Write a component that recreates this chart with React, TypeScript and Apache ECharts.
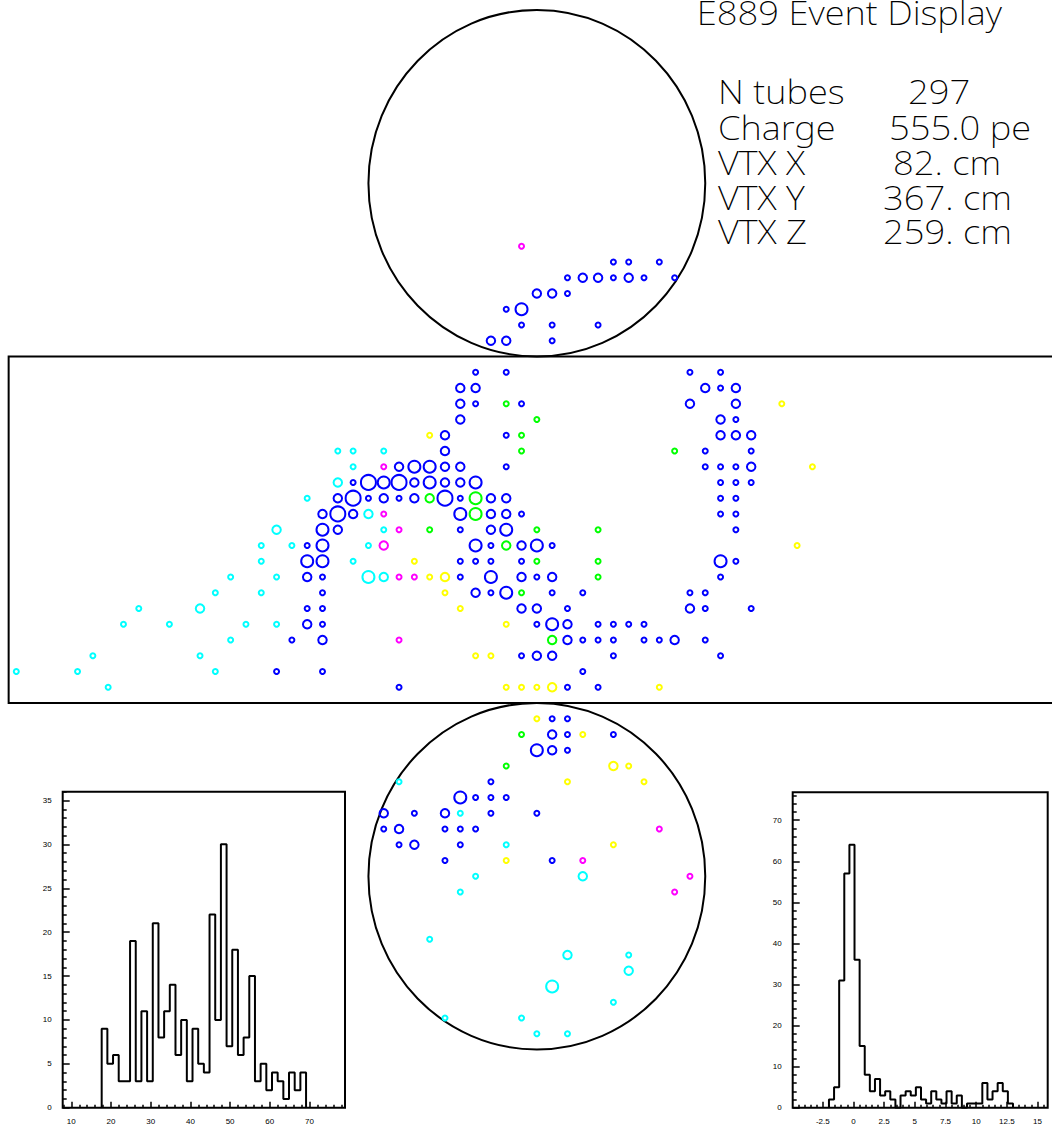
import React, { useEffect, useRef } from "react";
import * as echarts from "echarts";

// ---------------- DATA ----------------
// PMT hits: [column, row, charge size class (1..4), colour code]
const topCapHits: [number, number, number, string][] = [
  [33, -8, 1, "m"],
  [39, -7, 1, "b"], [40, -7, 1, "b"], [42, -7, 1, "b"],
  [36, -6, 1, "b"], [37, -6, 2, "b"], [38, -6, 2, "b"], [39, -6, 1, "b"], [40, -6, 2, "b"], [41, -6, 1, "b"], [43, -6, 1, "b"],
  [34, -5, 2, "b"], [35, -5, 2, "b"], [36, -5, 1, "b"],
  [32, -4, 1, "b"], [33, -4, 3, "b"],
  [33, -3, 1, "b"], [35, -3, 1, "b"], [38, -3, 1, "b"],
  [31, -2, 2, "b"], [32, -2, 2, "b"], [35, -2, 1, "b"],
];

const barrelHits: [number, number, number, string][] = [
  [30, 0, 1, "b"], [32, 0, 1, "b"], [44, 0, 1, "b"], [46, 0, 1, "b"],
  [29, 1, 2, "b"], [30, 1, 2, "b"], [45, 1, 2, "b"], [46, 1, 1, "b"], [47, 1, 2, "b"],
  [29, 2, 2, "b"], [30, 2, 1, "b"], [32, 2, 1, "g"], [33, 2, 1, "b"], [44, 2, 2, "b"], [47, 2, 2, "b"], [50, 2, 1, "y"],
  [29, 3, 2, "b"], [34, 3, 1, "g"], [46, 3, 2, "b"], [47, 3, 1, "b"],
  [27, 4, 1, "y"], [28, 4, 2, "b"], [32, 4, 1, "b"], [33, 4, 1, "g"], [46, 4, 2, "b"], [47, 4, 2, "b"], [48, 4, 2, "b"],
  [21, 5, 1, "c"], [22, 5, 1, "c"], [24, 5, 1, "c"], [28, 5, 2, "b"], [33, 5, 1, "g"], [43, 5, 1, "g"], [45, 5, 1, "b"], [48, 5, 1, "b"],
  [22, 6, 1, "c"], [24, 6, 1, "m"], [25, 6, 2, "b"], [26, 6, 3, "b"], [27, 6, 3, "b"], [28, 6, 2, "b"], [29, 6, 2, "b"], [32, 6, 1, "b"],
  [45, 6, 1, "b"], [46, 6, 1, "b"], [47, 6, 1, "b"], [48, 6, 2, "b"], [52, 6, 1, "y"],
  [21, 7, 2, "c"], [22, 7, 1, "b"], [23, 7, 4, "b"], [24, 7, 3, "b"], [25, 7, 4, "b"], [26, 7, 2, "b"], [27, 7, 3, "b"], [28, 7, 2, "b"],
  [29, 7, 2, "b"], [30, 7, 3, "b"], [46, 7, 1, "b"], [47, 7, 1, "b"], [48, 7, 1, "b"],
  [19, 8, 1, "c"], [21, 8, 2, "b"], [22, 8, 4, "b"], [23, 8, 1, "b"], [24, 8, 2, "b"], [25, 8, 1, "b"], [26, 8, 2, "b"], [27, 8, 2, "g"],
  [28, 8, 4, "b"], [29, 8, 1, "b"], [30, 8, 3, "g"], [31, 8, 2, "b"], [32, 8, 2, "b"], [46, 8, 1, "b"], [47, 8, 1, "b"],
  [20, 9, 2, "b"], [21, 9, 4, "b"], [22, 9, 2, "b"], [23, 9, 2, "c"], [24, 9, 1, "m"], [29, 9, 3, "b"], [30, 9, 3, "g"], [31, 9, 2, "b"],
  [32, 9, 2, "b"], [33, 9, 1, "b"], [46, 9, 1, "b"], [47, 9, 1, "b"],
  [17, 10, 2, "c"], [20, 10, 3, "b"], [21, 10, 2, "b"], [24, 10, 1, "c"], [25, 10, 1, "m"], [27, 10, 1, "g"], [29, 10, 1, "b"], [31, 10, 2, "b"],
  [32, 10, 3, "b"], [34, 10, 1, "g"], [38, 10, 1, "g"], [47, 10, 1, "b"],
  [16, 11, 1, "c"], [18, 11, 1, "c"], [19, 11, 1, "b"], [20, 11, 3, "b"], [23, 11, 1, "c"], [24, 11, 2, "m"], [30, 11, 3, "b"], [31, 11, 1, "b"],
  [32, 11, 2, "g"], [33, 11, 2, "b"], [34, 11, 3, "b"], [35, 11, 1, "b"], [51, 11, 1, "y"],
  [16, 12, 1, "c"], [19, 12, 3, "b"], [20, 12, 3, "b"], [22, 12, 1, "c"], [26, 12, 1, "y"], [29, 12, 1, "b"], [30, 12, 1, "b"], [31, 12, 1, "b"],
  [33, 12, 1, "b"], [34, 12, 1, "g"], [38, 12, 1, "g"], [46, 12, 3, "b"], [47, 12, 1, "b"],
  [14, 13, 1, "c"], [17, 13, 1, "c"], [19, 13, 2, "b"], [20, 13, 1, "b"], [23, 13, 3, "c"], [24, 13, 2, "c"], [25, 13, 1, "m"], [26, 13, 1, "m"],
  [27, 13, 1, "y"], [28, 13, 2, "y"], [29, 13, 1, "b"], [31, 13, 3, "b"], [33, 13, 2, "b"], [34, 13, 1, "b"], [35, 13, 2, "b"], [38, 13, 1, "g"], [46, 13, 1, "b"],
  [13, 14, 1, "c"], [16, 14, 1, "c"], [20, 14, 1, "b"], [28, 14, 1, "y"], [30, 14, 2, "b"], [31, 14, 1, "b"], [32, 14, 3, "b"], [33, 14, 1, "g"],
  [35, 14, 1, "b"], [37, 14, 1, "b"], [44, 14, 1, "b"], [45, 14, 1, "b"],
  [8, 15, 1, "c"], [12, 15, 2, "c"], [19, 15, 1, "b"], [20, 15, 1, "b"], [29, 15, 1, "y"], [33, 15, 2, "b"], [34, 15, 2, "b"], [36, 15, 1, "b"],
  [44, 15, 2, "b"], [45, 15, 1, "b"], [48, 15, 1, "b"],
  [7, 16, 1, "c"], [10, 16, 1, "c"], [15, 16, 1, "c"], [17, 16, 1, "c"], [19, 16, 2, "b"], [20, 16, 1, "b"], [32, 16, 1, "y"], [34, 16, 1, "b"],
  [35, 16, 3, "b"], [36, 16, 2, "b"], [38, 16, 1, "b"], [39, 16, 1, "b"], [40, 16, 1, "b"], [41, 16, 1, "b"],
  [14, 17, 1, "c"], [18, 17, 1, "b"], [20, 17, 2, "b"], [25, 17, 1, "m"], [35, 17, 2, "g"], [36, 17, 2, "b"], [37, 17, 1, "b"], [38, 17, 1, "b"],
  [39, 17, 1, "b"], [41, 17, 1, "b"], [42, 17, 1, "b"], [43, 17, 2, "b"], [45, 17, 1, "b"],
  [5, 18, 1, "c"], [12, 18, 1, "c"], [30, 18, 1, "y"], [31, 18, 1, "y"], [33, 18, 1, "b"], [34, 18, 2, "b"], [35, 18, 2, "b"], [39, 18, 1, "b"], [46, 18, 1, "b"],
  [0, 19, 1, "c"], [4, 19, 1, "c"], [13, 19, 1, "c"], [17, 19, 1, "b"], [20, 19, 1, "b"], [37, 19, 1, "b"],
  [6, 20, 1, "c"], [25, 20, 1, "b"], [32, 20, 1, "y"], [33, 20, 1, "y"], [34, 20, 1, "y"], [35, 20, 2, "y"], [36, 20, 1, "b"], [38, 20, 1, "b"], [42, 20, 1, "y"],
];

const bottomCapHits: [number, number, number, string][] = [
  [34, 22, 1, "y"], [35, 22, 1, "b"], [36, 22, 1, "b"],
  [33, 23, 1, "g"], [35, 23, 2, "b"], [36, 23, 1, "b"], [37, 23, 1, "y"], [39, 23, 1, "b"],
  [34, 24, 3, "b"], [35, 24, 2, "b"], [36, 24, 1, "b"],
  [32, 25, 1, "g"], [39, 25, 2, "y"], [40, 25, 1, "y"],
  [25, 26, 1, "c"], [31, 26, 1, "b"], [36, 26, 1, "y"], [41, 26, 1, "y"],
  [29, 27, 3, "b"], [30, 27, 1, "b"], [31, 27, 1, "b"], [32, 27, 1, "b"],
  [24, 28, 2, "b"], [26, 28, 1, "b"], [28, 28, 2, "b"], [29, 28, 1, "c"], [31, 28, 1, "b"], [34, 28, 1, "b"],
  [24, 29, 1, "b"], [25, 29, 2, "b"], [28, 29, 1, "b"], [29, 29, 1, "b"], [30, 29, 1, "b"], [42, 29, 1, "m"],
  [25, 30, 1, "b"], [26, 30, 2, "b"], [29, 30, 1, "b"], [32, 30, 1, "c"], [39, 30, 1, "y"],
  [28, 31, 1, "b"], [32, 31, 1, "y"], [35, 31, 1, "b"], [37, 31, 1, "m"],
  [30, 32, 1, "c"], [37, 32, 2, "c"], [44, 32, 1, "m"],
  [29, 33, 1, "c"], [43, 33, 1, "m"],
  [27, 36, 1, "c"],
  [36, 37, 2, "c"], [40, 37, 1, "c"],
  [40, 38, 2, "c"],
  [35, 39, 3, "c"],
  [39, 40, 1, "c"],
  [28, 41, 1, "c"], [33, 41, 1, "c"],
  [34, 42, 1, "c"], [36, 42, 1, "c"],
];

// Hit time histogram (left): 36 bins
const timeBinStart = 17.65;
const timeBinWidth = 1.43;
const timeCounts = [9, 5, 6, 3, 3, 19, 3, 11, 3, 21, 8, 11, 14, 6, 10, 3, 9, 5, 4, 22, 10, 30, 7, 18, 6, 8, 15, 3, 5, 2, 4, 3, 1, 4, 2, 4];
const timeTickLabels = [10, 20, 30, 40, 50, 60, 70];
const timeCountTickLabels = [0, 5, 10, 15, 20, 25, 30, 35];

// Residual histogram (right): 36 bins
const resBinStart = -2.0;
const resBinWidth = 0.4167;
const resCounts = [2, 5, 31, 57, 64, 36, 15, 8, 4, 7, 3, 4, 2, 0, 3, 4, 3, 5, 2, 1, 4, 2, 1, 4, 1, 3, 0, 1, 1, 1, 6, 2, 4, 6, 4, 1];
const resTickLabels = [-2.5, 0, 2.5, 5, 7.5, 10, 12.5, 15];
const resCountTickLabels = [0, 10, 20, 30, 40, 50, 60, 70];

const titleText = "E889 Event Display";
const infoLabels = ["N tubes", "Charge", "VTX X", "VTX Y", "VTX Z"];
const infoValues = ["297", "555.0 pe", "82. cm", "367. cm", "259. cm"];

// ---------------- LAYOUT / STYLE ----------------
const W = 1052;
const H = 1128;
const COLORS: Record<string, string> = { b: "#0000ff", c: "#00ffff", m: "#ff00ff", g: "#00ff00", y: "#ffff00" };
const SIZE_PX = [0, 5, 8.5, 12, 15];
const CAP_RADIUS = 11;
const TOP_CAP_CENTER = [34, -12];
const BOTTOM_CAP_CENTER = [34, 32];
const BARREL_LEFT = -0.5;
const BARREL_TOP = -1;
const BARREL_BOTTOM = 21;

const TEXT_FONT = '"Noto Sans", "DejaVu Sans", sans-serif';
const TEXT_SIZE = 32.5;
const TEXT_WEIGHT = 200;
const TEXT_STRETCH = 1.12;
const INFO_LABEL_X = 718;
const INFO_VALUE_X = [908, 889, 893, 883, 883];
const INFO_BASELINE = [103.3, 138.5, 173.6, 208.6, 243];
const TITLE_X = 696.7;
const TITLE_BASELINE = 24;

function stepData(start: number, width: number, counts: number[]) {
  const d: number[][] = [[start, 0]];
  counts.forEach((c, i) => d.push([start + i * width, c]));
  const end = start + counts.length * width;
  d.push([end, counts[counts.length - 1]]);
  d.push([end, 0]);
  return d;
}

function range(a: number, b: number, step: number, skip: number) {
  const out: number[] = [];
  for (let i = 0; a + i * step <= b + 1e-9; i++) {
    const v = +(a + i * step).toFixed(4);
    if (Math.abs(v / skip - Math.round(v / skip)) > 1e-6) out.push(v);
  }
  return out;
}

const labelStyle = { fontSize: 8, color: "#000", fontFamily: '"Liberation Sans", Arial, sans-serif' };

function histAxes(gridIndex: number, xmin: number, xmax: number, xMajor: number[], xMinor: number[], ymax: number, yMajor: number[], yMinor: number[]) {
  const common = { axisLine: { show: false, onZero: false }, splitLine: { show: false } };
  const xa = [
    {
      type: "value", gridIndex, min: xmin, max: xmax, position: "bottom", ...common,
      axisTick: { show: true, inside: true, length: 6, customValues: xMajor, lineStyle: { color: "#000", width: 1.5 } },
      axisLabel: { show: true, customValues: xMajor, margin: 10, ...labelStyle },
    },
    {
      type: "value", gridIndex, min: xmin, max: xmax, position: "bottom", ...common,
      axisTick: { show: true, inside: true, length: 3, customValues: xMinor, lineStyle: { color: "#000", width: 1.5 } },
      axisLabel: { show: false },
    },
  ];
  const ya = [
    {
      type: "value", gridIndex, min: 0, max: ymax, position: "left", ...common,
      axisTick: { show: true, inside: true, length: 7, customValues: yMajor, lineStyle: { color: "#000", width: 1.5 } },
      axisLabel: { show: true, customValues: yMajor, margin: 11, ...labelStyle },
    },
    {
      type: "value", gridIndex, min: 0, max: ymax, position: "left", ...common,
      axisTick: { show: true, inside: true, length: 4, customValues: yMinor, lineStyle: { color: "#000", width: 1.5 } },
      axisLabel: { show: false },
    },
  ];
  return { xa, ya };
}

export default function App() {
  const ref = useRef<HTMLDivElement>(null);

  useEffect(() => {
    if (!ref.current) return;
    const chart = echarts.init(ref.current, undefined, { renderer: "svg", width: W, height: H });

    const allHits = [...topCapHits, ...barrelHits, ...bottomCapHits];
    const hitSeries = ["c", "m", "g", "y", "b"].map((k) => ({
      type: "scatter",
      xAxisIndex: 0,
      yAxisIndex: 0,
      symbol: "circle",
      symbolSize: (v: number[]) => SIZE_PX[v[2]],
      itemStyle: { color: "rgba(0,0,0,0)", borderColor: COLORS[k], borderWidth: 2, opacity: 1 },
      emphasis: { disabled: true },
      data: allHits.filter((h) => h[3] === k).map((h) => [h[0], h[1], h[2]]),
      z: 3,
    }));

    const left = histAxes(1, 7.83, 78.94, timeTickLabels, range(8, 78, 2, 10), 36,
      timeCountTickLabels, range(1, 36, 1, 5));
    const right = histAxes(2, -4.955, 15.83, resTickLabels, range(-4.5, 15.5, 0.5, 2.5), 76.8,
      resCountTickLabels, range(2, 76, 2, 10));

    chart.setOption({
      animation: false,
      backgroundColor: "#fff",
      grid: [
        { left: 0, top: 0, width: W, height: H, show: false },
        { left: 62.7, top: 791.7, width: 282.3, height: 316, show: true, borderColor: "#000", borderWidth: 2, backgroundColor: "transparent" },
        { left: 792.7, top: 792.3, width: 255, height: 315.4, show: true, borderColor: "#000", borderWidth: 2, backgroundColor: "transparent" },
      ],
      xAxis: [
        { type: "value", gridIndex: 0, min: -16.3 / 15.31, max: (W - 16.3) / 15.31, show: false },
        ...left.xa,
        ...right.xa,
      ],
      yAxis: [
        { type: "value", gridIndex: 0, min: -372.2 / 15.75, max: (H - 372.2) / 15.75, inverse: true, show: false },
        ...left.ya,
        ...right.ya,
      ],
      series: [
        ...hitSeries,
        {
          type: "line", xAxisIndex: 1, yAxisIndex: 1, step: "end", symbol: "none",
          lineStyle: { color: "#000", width: 2 }, data: stepData(timeBinStart, timeBinWidth, timeCounts), z: 4,
        },
        {
          type: "line", xAxisIndex: 3, yAxisIndex: 3, step: "end", symbol: "none",
          lineStyle: { color: "#000", width: 2 }, data: stepData(resBinStart, resBinWidth, resCounts), z: 4,
        },
      ],
    });

    // outlines of the detector (caps and unrolled barrel) from the display's own scale
    const px = (p: number[]) => chart.convertToPixel({ gridIndex: 0 }, p) as number[];
    const topC = px(TOP_CAP_CENTER);
    const botC = px(BOTTOM_CAP_CENTER);
    const edge = px([TOP_CAP_CENTER[0] + CAP_RADIUS, TOP_CAP_CENTER[1] + CAP_RADIUS]);
    const rx = edge[0] - topC[0];
    const ry = edge[1] - topC[1];
    const bTL = px([BARREL_LEFT, BARREL_TOP]);
    const bBR = px([BARREL_LEFT + 2 * Math.PI * CAP_RADIUS, BARREL_BOTTOM]);
    const stroke = { fill: "none", stroke: "#000", lineWidth: 2 };
    const centralOffset = 0.36 * TEXT_SIZE;
    const textEl = (text: string, x: number, baseline: number, lh: number) => ({
      type: "text",
      x,
      y: baseline - centralOffset,
      scaleX: TEXT_STRETCH,
      style: {
        text,
        fontFamily: TEXT_FONT,
        fontSize: TEXT_SIZE,
        fontWeight: TEXT_WEIGHT,
        fill: "#000",
        verticalAlign: "middle",
        align: "left",
        lineHeight: lh,
      },
    });

    const graphic: any[] = [
      { type: "ellipse", shape: { cx: topC[0], cy: topC[1], rx, ry }, style: stroke, z: 1 },
      { type: "ellipse", shape: { cx: botC[0], cy: botC[1], rx, ry }, style: stroke, z: 1 },
      { type: "rect", shape: { x: bTL[0], y: bTL[1], width: bBR[0] - bTL[0], height: bBR[1] - bTL[1] }, style: stroke, z: 1 },
      textEl(titleText, TITLE_X, TITLE_BASELINE, 20),
    ];
    infoLabels.forEach((t, i) => {
      graphic.push(textEl(t, INFO_LABEL_X, INFO_BASELINE[i], 30));
      graphic.push(textEl(infoValues[i], INFO_VALUE_X[i], INFO_BASELINE[i], 30));
    });
    chart.setOption({ graphic });

    return () => chart.dispose();
  }, []);

  return (
    <div
      ref={ref}
      style={{ position: "fixed", left: 0, top: 0, width: W, height: H, background: "#fff" }}
    />
  );
}
